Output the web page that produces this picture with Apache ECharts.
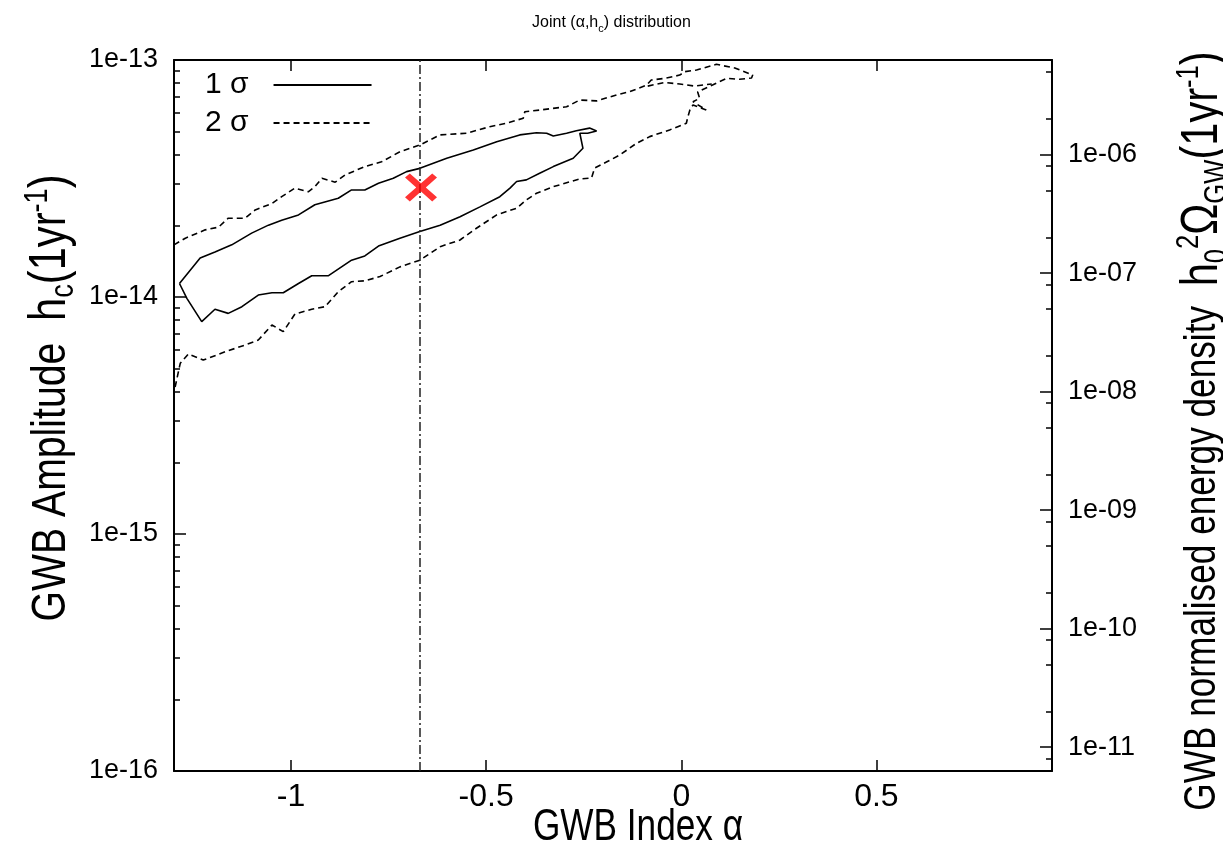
<!DOCTYPE html>
<html>
<head>
<meta charset="utf-8">
<script src="https://cdn.jsdelivr.net/npm/echarts@6/dist/echarts.min.js"></script>
<style>
  html, body { margin: 0; padding: 0; background: #fff; }
  #chart { width: 1223px; height: 848px; }
</style>
</head>
<body>
<div id="chart"></div>
<script>
// Characteristic strain values are given in units of 1e-14.
const HC_UNIT = 1e-14;

// 1-sigma contour (closed)
const sigma1Alpha = [-1.286, -1.233, -1.195, -1.152, -1.101, -1.058, -1.024, -0.981, -0.939, -0.879,
  -0.845, -0.811, -0.776, -0.738, -0.704, -0.670, -0.601, -0.533, -0.473, -0.414,
  -0.371, -0.345, -0.328, -0.294, -0.269, -0.235, -0.217, -0.240, -0.260, -0.252,
  -0.277, -0.328, -0.363, -0.397, -0.422, -0.439, -0.465, -0.516, -0.567, -0.618,
  -0.670, -0.721, -0.776, -0.811, -0.845, -0.904, -0.947, -0.981, -1.020, -1.049,
  -1.084, -1.126, -1.161, -1.195, -1.229, -1.267, -1.286];
const sigma1Hc = [1.14, 1.46, 1.55, 1.66, 1.86, 2.01, 2.11, 2.22, 2.45, 2.61,
  2.83, 2.83, 3.02, 3.17, 3.38, 3.49, 3.85, 4.17, 4.52, 4.83,
  4.93, 4.91, 4.78, 4.91, 5.03, 5.16, 5.02, 4.91, 4.91, 4.24,
  3.85, 3.55, 3.33, 3.12, 3.07, 2.88, 2.65, 2.40, 2.18, 2.01,
  1.89, 1.77, 1.64, 1.49, 1.43, 1.23, 1.23, 1.14, 1.042, 1.042,
  1.019, 0.910, 0.853, 0.888, 0.787, 0.987, 1.14];

// 2-sigma contour (leaves the frame on the left)
const sigma2Alpha = [-1.300, -1.271, -1.220, -1.186, -1.161, -1.118, -1.092, -1.049, -1.024, -0.990,
  -0.956, -0.939, -0.921, -0.887, -0.862, -0.811, -0.768, -0.721, -0.670, -0.618,
  -0.550, -0.491, -0.448, -0.405, -0.401, -0.363, -0.294, -0.260, -0.217, -0.166,
  -0.132, -0.089, -0.077, -0.038, -0.004, 0.009, 0.039, 0.090, 0.137, 0.183,
  0.180, 0.149, 0.116, 0.080, 0.042, 0.047, 0.030, 0.064, 0.030, 0.022,
  0.017, 0.013, -0.030, -0.081, -0.115, -0.158, -0.192, -0.222, -0.230, -0.260,
  -0.328, -0.371, -0.397, -0.422, -0.473, -0.525, -0.567, -0.618, -0.670, -0.721,
  -0.772, -0.811, -0.845, -0.879, -0.913, -0.947, -0.990, -1.020, -1.049, -1.084,
  -1.118, -1.168, -1.225, -1.263, -1.284, -1.297, -1.300];
const sigma2Hc = [1.66, 1.77, 1.92, 1.97, 2.15, 2.15, 2.33, 2.48, 2.65, 2.88,
  2.78, 2.92, 3.17, 3.05, 3.27, 3.55, 3.72, 4.10, 4.38, 4.83,
  4.91, 5.23, 5.41, 5.68, 6.05, 6.15, 6.35, 6.78, 6.72, 7.12,
  7.35, 7.84, 8.23, 8.39, 8.64, 8.93, 9.07, 9.59, 9.25, 8.64,
  8.39, 8.29, 8.37, 7.84, 7.33, 6.89, 6.67, 6.15, 6.46, 6.15,
  5.77, 5.41, 5.07, 4.75, 4.45, 3.97, 3.71, 3.50, 3.18, 3.15,
  2.92, 2.74, 2.57, 2.37, 2.22, 1.95, 1.74, 1.63, 1.43, 1.34,
  1.22, 1.17, 1.16, 1.053, 0.910, 0.888, 0.848, 0.714, 0.762, 0.658,
  0.627, 0.588, 0.542, 0.575, 0.525, 0.418, 0.405];

// small 2-sigma island near the top edge
const islandAlpha = [-0.086, -0.043, -0.004, 0.034, 0.078];
const islandHc = [7.76, 8.04, 7.92, 7.76, 7.92];

// best-fit point and the SMBH-binary expectation alpha = -2/3
const bestAlpha = -0.667;
const bestHc = 2.9;
const alphaSmbh = -2 / 3;

// axes
const xMin = -1.3, xMax = 0.95;
const xTicks = [-1, -0.5, 0, 0.5];
const hcMinExp = -16, hcMaxExp = -13;
const omegaLabels = [-11, -10, -9, -8, -7, -6];

// h0^2 Omega_GW(f) = 2 pi^2 f^2 hc^2 / (3 H100^2), evaluated at f = 1/yr
const YEAR_S = 365.25 * 86400;
const H100 = 1e5 / 3.0857e22;
const OMEGA_OFFSET = Math.log10(2 * Math.PI * Math.PI / (3 * H100 * H100 * YEAR_S * YEAR_S));
const omegaMin = 2 * hcMinExp + OMEGA_OFFSET;
const omegaMax = 2 * hcMaxExp + OMEGA_OFFSET;

const hcMinorTicks = [];
for (let n = hcMinExp; n < hcMaxExp; n++) {
  for (let k = 2; k <= 9; k++) hcMinorTicks.push(n + Math.log10(k));
}
const omegaMinorTicks = [];
for (let n = -12; n <= -6; n++) {
  [2, 5, 8].forEach(k => {
    const v = n + Math.log10(k);
    if (v > omegaMin && v < omegaMax) omegaMinorTicks.push(v);
  });
}

const pairs = (a, h) => a.map((x, i) => [x, h[i] * HC_UNIT]);

const SANS = "'Liberation Sans', Arial, Helvetica, sans-serif";
const INK = '#000';
// titles are set in a condensed cut of the sans face
const CONDENSE = 0.8;

const frameLine = { show: true, onZero: false, lineStyle: { color: INK, width: 2 } };
const hiddenLine = { show: false, onZero: false };
const noSplit = { show: false };

const titleRich = (main, unit, small) => ({
  t: { fontFamily: SANS, fontSize: main, fill: INK, lineHeight: 60, verticalAlign: 'middle' },
  u: { fontFamily: SANS, fontSize: unit, fill: INK, lineHeight: 60, verticalAlign: 'middle' },
  s: { fontFamily: SANS, fontSize: small, fill: INK, lineHeight: small, verticalAlign: 'bottom' },
  p: { fontFamily: SANS, fontSize: small, fill: INK, lineHeight: small, verticalAlign: 'top' }
});

const chart = echarts.init(document.getElementById('chart'), null, { renderer: 'canvas' });

chart.setOption({
  animation: false,
  backgroundColor: '#fff',
  title: {
    text: '{t|Joint (α,h}{s|c}{t|) distribution}',
    left: 'center',
    top: 7,
    textStyle: {
      rich: {
        t: { fontFamily: SANS, fontSize: 16, fontWeight: 'normal', color: INK, lineHeight: 22, verticalAlign: 'middle' },
        s: { fontFamily: SANS, fontSize: 11, fontWeight: 'normal', color: INK, lineHeight: 11, verticalAlign: 'bottom' }
      }
    }
  },
  legend: {
    orient: 'vertical',
    left: 200,
    top: 65,
    align: 'right',
    itemWidth: 98,
    itemHeight: 20,
    itemGap: 8,
    selectedMode: false,
    itemStyle: { opacity: 0 },
    data: ['1 σ', '2 σ'],
    textStyle: { fontFamily: SANS, fontSize: 30, color: INK, lineHeight: 30, padding: [0, 20, 0, 0] }
  },
  grid: { left: 174, right: 171, top: 60, bottom: 77, outerBoundsMode: 'none', containLabel: false },
  xAxis: [
    {
      type: 'value', position: 'bottom', min: xMin, max: xMax,
      axisLine: frameLine,
      axisTick: { inside: true, length: 11, customValues: xTicks, lineStyle: { color: INK, width: 1.5 } },
      axisLabel: { customValues: xTicks, formatter: v => String(v), fontFamily: SANS, fontSize: 32, color: INK, margin: 10 },
      splitLine: noSplit
    },
    {
      type: 'value', position: 'top', min: xMin, max: xMax,
      axisLine: frameLine,
      axisTick: { inside: true, length: 11, customValues: xTicks, lineStyle: { color: INK, width: 1.5 } },
      axisLabel: { show: false },
      splitLine: noSplit
    }
  ],
  yAxis: [
    {
      type: 'log', logBase: 10, position: 'left', min: 1e-16, max: 1e-13,
      axisLine: frameLine,
      axisTick: { inside: true, length: 12, lineStyle: { color: INK, width: 1.5 } },
      axisLabel: { formatter: v => Number(v).toExponential(0), fontFamily: SANS, fontSize: 27, color: INK, margin: 16 },
      splitLine: noSplit
    },
    {
      type: 'value', position: 'right', min: omegaMin, max: omegaMax,
      axisLine: frameLine,
      axisTick: { inside: true, length: 12, customValues: omegaLabels, lineStyle: { color: INK, width: 1.5 } },
      axisLabel: {
        customValues: omegaLabels,
        formatter: v => '1e-' + String(Math.round(-v)).padStart(2, '0'),
        fontFamily: SANS, fontSize: 27, color: INK, margin: 16
      },
      splitLine: noSplit
    },
    {
      type: 'value', position: 'left', min: hcMinExp, max: hcMaxExp,
      axisLine: hiddenLine,
      axisTick: { inside: true, length: 6, customValues: hcMinorTicks, lineStyle: { color: INK, width: 1.5 } },
      axisLabel: { show: false },
      splitLine: noSplit
    },
    {
      type: 'value', position: 'right', min: omegaMin, max: omegaMax,
      axisLine: hiddenLine,
      axisTick: { inside: true, length: 6, customValues: omegaMinorTicks, lineStyle: { color: INK, width: 1.5 } },
      axisLabel: { show: false },
      splitLine: noSplit
    }
  ],
  graphic: [
    {
      type: 'text', x: 638, y: 828, scaleX: CONDENSE,
      style: { text: 'GWB Index α', font: '44px ' + SANS, fill: INK, align: 'center', verticalAlign: 'middle' }
    },
    {
      type: 'text', x: 51, y: 398, rotation: Math.PI / 2, scaleX: CONDENSE,
      style: {
        text: '{t|GWB Amplitude  }{u|h}{s|c}{u|(1yr}{p|-1}{u|)}',
        rich: titleRich(49, 52, 34),
        align: 'center', verticalAlign: 'middle'
      }
    },
    {
      type: 'text', x: 1203, y: 431, rotation: Math.PI / 2, scaleX: CONDENSE,
      style: {
        text: '{t|GWB normalised energy density  }{u|h}{s|0}{p|2}{u|Ω}{s|GW}{u|(1yr}{p|-1}{u|)}',
        rich: titleRich(44, 52, 32),
        align: 'center', verticalAlign: 'middle'
      }
    }
  ],
  series: [
    {
      name: '1 σ', type: 'line', xAxisIndex: 0, yAxisIndex: 0,
      data: pairs(sigma1Alpha, sigma1Hc),
      symbol: 'none', showSymbol: false, clip: true,
      lineStyle: { color: INK, width: 1.6, type: 'solid' },
      itemStyle: { color: INK }
    },
    {
      name: '2 σ', type: 'line', xAxisIndex: 0, yAxisIndex: 0,
      data: pairs(sigma2Alpha, sigma2Hc),
      symbol: 'none', showSymbol: false, clip: true,
      lineStyle: { color: INK, width: 1.6, type: [6, 4] },
      itemStyle: { color: INK }
    },
    {
      name: '2 σ', type: 'line', xAxisIndex: 0, yAxisIndex: 0,
      data: pairs(islandAlpha, islandHc),
      symbol: 'none', showSymbol: false, clip: true,
      lineStyle: { color: INK, width: 1.6, type: [6, 4] },
      itemStyle: { color: INK }
    },
    {
      name: 'best fit', type: 'scatter', xAxisIndex: 0, yAxisIndex: 0,
      data: [[bestAlpha, bestHc * HC_UNIT]],
      symbol: 'path://M3,0 L10,7 L17,0 L20,3 L13,10 L20,17 L17,20 L10,13 L3,20 L0,17 L7,10 L0,3 Z',
      symbolSize: [32, 28], symbolKeepAspect: false,
      itemStyle: { color: '#ff0000' },
      z: 5,
      markLine: {
        silent: true,
        symbol: ['none', 'none'],
        label: { show: false },
        lineStyle: { color: '#222', width: 1.5, type: [9, 3, 2, 3] },
        data: [{ xAxis: alphaSmbh }]
      }
    }
  ]
});
</script>
</body>
</html>
